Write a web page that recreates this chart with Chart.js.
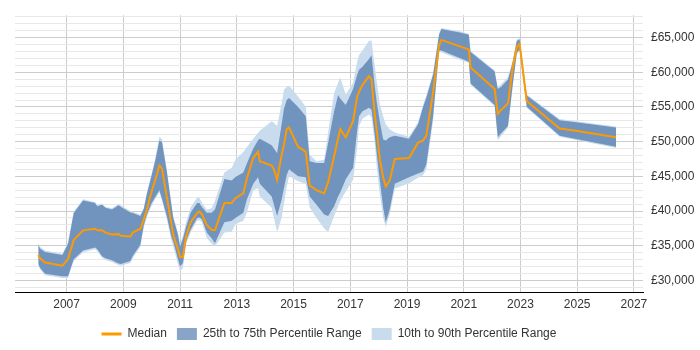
<!DOCTYPE html>
<html>
<head>
<meta charset="utf-8">
<script src="https://cdn.jsdelivr.net/npm/chart.js@4.4.0/dist/chart.umd.min.js"></script>
<style>
  html, body { margin: 0; padding: 0; background: #fff; }
  #wrap { width: 700px; height: 350px; }
</style>
</head>
<body>
<div id="wrap"><canvas id="grafico"></canvas></div>
<script>
// dates as decimal years, values in GBP
const anos = [
  2006.00, 2006.07, 2006.24, 2006.85, 2007.05, 2007.25, 2007.58, 2008.00, 2008.08, 2008.25,
  2008.37, 2008.60, 2008.83, 2008.92, 2009.25, 2009.33, 2009.60, 2009.72, 2009.83, 2010.00,
  2010.12, 2010.27, 2010.36, 2010.53, 2010.70, 2010.76, 2010.93, 2011.00, 2011.10, 2011.21,
  2011.37, 2011.60, 2011.68, 2011.77, 2011.94, 2012.11, 2012.23, 2012.56, 2012.82, 2012.95,
  2013.23, 2013.35, 2013.58, 2013.75, 2013.81, 2014.23, 2014.31, 2014.42, 2014.58, 2014.66,
  2014.76, 2014.84, 2015.16, 2015.43, 2015.57, 2015.81, 2016.08, 2016.22, 2016.43, 2016.57,
  2016.65, 2016.84, 2017.10, 2017.24, 2017.31, 2017.43, 2017.66, 2017.75, 2017.86, 2017.94,
  2018.04, 2018.16, 2018.25, 2018.39, 2018.57, 2019.07, 2019.39, 2019.57, 2019.68, 2019.92,
  2020.13, 2020.21, 2020.86, 2021.18, 2021.24, 2022.09, 2022.20, 2022.32, 2022.56, 2022.73,
  2022.87, 2022.97, 2023.22, 2024.38, 2024.96, 2026.37
];
const mediana = [
  33650, 33140, 32580, 32120, 33050, 35830, 37220, 37450, 37220, 37220,
  36890, 36610, 36670, 36430, 36330, 36890, 37450, 38800, 40220, 42900,
  44400, 46570, 46150, 42080, 38000, 36530, 34440, 33370, 33370, 36290,
  38370, 39700, 39950, 39530, 38000, 37300, 37250, 41150, 41150, 41850,
  42540, 44620, 47640, 48560, 47170, 46570, 46010, 44490, 48100, 49490,
  51800, 52030, 49250, 48560, 43700, 43000, 42540, 44170, 47860, 50500,
  51800, 50600, 52960, 56430, 57200, 58190, 59440, 58970, 54000, 51330,
  47500, 44860, 43560, 44390, 47500, 47640, 49860, 50180, 50870, 57120,
  63830, 64670, 63740, 63280, 60690, 57580, 54030, 54580, 55500, 60830,
  63610, 64070, 55870, 51890, 51570, 50640
];
const p25 = [
  32360, 31800, 30970, 30600, 30600, 33050, 34300, 34760, 34500, 33500,
  33200, 32900, 32450, 32360, 32800, 33510, 35140, 38000, 39500, 41150,
  42000, 43000, 41800, 39300, 36200, 35600, 33000, 32000, 32500, 35600,
  37300, 39000, 39070, 38830, 36900, 36060, 35360, 38400, 38600, 39000,
  39760, 41610, 43930, 44860, 43930, 42080, 40900, 39300, 41610, 43300,
  45200, 46010, 45000, 44860, 42080, 40900, 39500, 39300, 40700, 42080,
  42700, 44600, 46250, 51500, 53650, 54400, 54900, 54600, 51000, 48000,
  44500, 40500, 38370, 40220, 43930, 44860, 45400, 45700, 46700, 53650,
  63140, 63140, 62060, 61530, 58380, 55280, 50640, 51200, 52260, 58280,
  62800, 63300, 55040, 50870, 50400, 49250
];
const p75 = [
  35140, 34580, 34110, 33650, 35300, 39700, 41530, 41150, 40690, 40920,
  40460, 40220, 40830, 40600, 39800, 39700, 39300, 40300, 42500, 45200,
  47170, 50180, 49940, 45780, 40690, 39000, 36500, 34900, 36000, 37700,
  39760, 41150, 41150, 40600, 39760, 39760, 40220, 44620, 44400, 44900,
  45550, 46800, 49000, 50200, 50420, 49490, 49000, 48330, 52500, 54700,
  56000, 56300, 55000, 53650, 47170, 46940, 46940, 49800, 54400, 56730,
  56200, 55300, 57580, 59600, 60360, 60800, 61900, 62450, 58050, 55500,
  52960, 50300, 50180, 50640, 50870, 50420, 52500, 55040, 56300, 59670,
  65400, 66250, 65750, 65400, 62910, 60130, 57580, 57900, 58970, 61500,
  64500, 64760, 56670, 53100, 52800, 52030
];
const p10 = [
  32100, 31550, 30750, 30350, 30350, 32800, 34050, 34500, 34250, 33250,
  32950, 32650, 32200, 32100, 32500, 33200, 34800, 37600, 39100, 40800,
  41700, 42700, 41500, 38900, 35600, 34900, 32300, 31300, 31800, 35200,
  36900, 38600, 38700, 38400, 36100, 35300, 34900, 36900, 37000, 38100,
  38600, 39760, 42990, 43300, 42080, 40460, 39000, 36990, 39000, 41000,
  43500, 45000, 44300, 43930, 40500, 39000, 37500, 36990, 39300, 40700,
  41500, 42800, 44500, 49000, 52260, 53300, 53900, 53500, 50000, 46000,
  42500, 39000, 37700, 39500, 43240, 44000, 44800, 45200, 46000, 53000,
  62900, 62900, 61800, 61350, 58200, 55100, 50200, 50800, 52000, 58000,
  62600, 63100, 54900, 50700, 50250, 49100
];
const p90 = [
  35400, 34800, 34300, 33850, 35500, 39900, 41700, 41300, 40900, 41100,
  40600, 40400, 41000, 40800, 40000, 39900, 39500, 40500, 42700, 45400,
  47500, 50700, 50400, 46100, 41000, 39300, 36800, 35200, 36400, 38400,
  40500, 41900, 41900, 41200, 40200, 40400, 41500, 45550, 46250, 47400,
  48500, 49200, 50420, 51300, 51570, 52960, 52700, 52260, 55500, 57500,
  57900, 58050, 56500, 55040, 48100, 47170, 47400, 51330, 57000, 58500,
  59210, 56800, 58510, 61500, 62500, 63140, 64530, 64530, 61000, 58500,
  55500, 53650, 52500, 51800, 51330, 50700, 52800, 55400, 56700, 59900,
  65600, 66400, 65900, 65550, 63100, 60300, 57800, 58300, 59300, 61800,
  64700, 64950, 56850, 53250, 52950, 52200
];
const anosEixo = [2007, 2009, 2011, 2013, 2015, 2017, 2019, 2021, 2023, 2025, 2027];

function pontos(valores) {
  return anos.map((ano, i) => ({ x: ano, y: valores[i] }));
}

// keep the legend centred under the plot area, not the whole canvas
const legendaNaArea = {
  id: "legendaNaArea",
  afterLayout(chart) {
    const area = chart.chartArea;
    chart.legend.left = area.left;
    chart.legend.right = area.right;
  }
};

Chart.defaults.font.family = '"Liberation Sans", Arial, sans-serif';
Chart.defaults.font.size = 12;
Chart.defaults.color = "#333";

const ctx = document.getElementById("grafico").getContext("2d");

new Chart(ctx, {
  type: "line",
  plugins: [legendaNaArea],
  data: {
    datasets: [
      {
        label: "Median",
        data: pontos(mediana),
        borderColor: "#ff9900",
        backgroundColor: "#ff9900",
        borderWidth: 2,
        pointRadius: 0,
        pointStyle: "line",
        fill: false,
        order: 0
      },
      {
        label: "25th to 75th Percentile Range",
        data: pontos(p75),
        borderWidth: 0,
        borderColor: "rgba(0,0,0,0)",
        backgroundColor: "rgba(39,90,151,0.55)",
        pointRadius: 0,
        pointStyle: "rect",
        fill: "+1",
        order: 1
      },
      {
        label: "",
        data: pontos(p25),
        borderWidth: 0,
        borderColor: "rgba(0,0,0,0)",
        pointRadius: 0,
        fill: false,
        order: 1
      },
      {
        label: "10th to 90th Percentile Range",
        data: pontos(p90),
        borderWidth: 0,
        borderColor: "rgba(0,0,0,0)",
        backgroundColor: "rgb(201,220,238)",
        pointRadius: 0,
        pointStyle: "rect",
        fill: "+1",
        order: 2
      },
      {
        label: "",
        data: pontos(p10),
        borderWidth: 0,
        borderColor: "rgba(0,0,0,0)",
        pointRadius: 0,
        fill: false,
        order: 2
      }
    ]
  },
  options: {
    responsive: true,
    maintainAspectRatio: false,
    animation: false,
    layout: { padding: { left: 15, top: 5, right: 0, bottom: 0 } },
    plugins: {
      tooltip: { enabled: false },
      legend: {
        position: "bottom",
        labels: {
          usePointStyle: true,
          pointStyleWidth: 20,
          boxWidth: 20,
          boxHeight: 12,
          padding: 10,
          color: "#333",
          filter: item => item.text !== "",
          generateLabels: chart => {
            const itens = Chart.defaults.plugins.legend.labels.generateLabels(chart);
            itens.forEach(item => {
              if (item.text === "Median") item.lineWidth = 3;
            });
            return itens;
          }
        }
      }
    },
    scales: {
      x: {
        type: "linear",
        min: 2005.18,
        max: 2027.32,
        afterBuildTicks: axis => {
          axis.ticks = anosEixo.map(v => ({ value: v }));
        },
        afterFit: axis => {
          axis.height = 26;
        },
        ticks: {
          padding: 5,
          color: "#333",
          callback: v => String(v)
        },
        grid: {
          color: "#cccccc",
          drawTicks: false
        },
        border: { color: "#000", width: 1 }
      },
      y: {
        position: "right",
        min: 28330,
        max: 68230,
        afterBuildTicks: axis => {
          const marcas = [];
          for (let v = 29000; v <= 68000; v += 1000) marcas.push({ value: v });
          axis.ticks = marcas;
        },
        afterFit: axis => {
          axis.width = 57;
        },
        ticks: {
          padding: 8,
          color: "#333",
          autoSkip: false,
          callback: v => (v % 5000 === 0 ? "£" + v.toLocaleString("en-GB") : "")
        },
        grid: {
          drawTicks: false,
          color: c => (c.tick && c.tick.value % 5000 === 0 ? "#cccccc" : "#e8e8e8")
        },
        border: { display: false }
      }
    }
  }
});
</script>
</body>
</html>
